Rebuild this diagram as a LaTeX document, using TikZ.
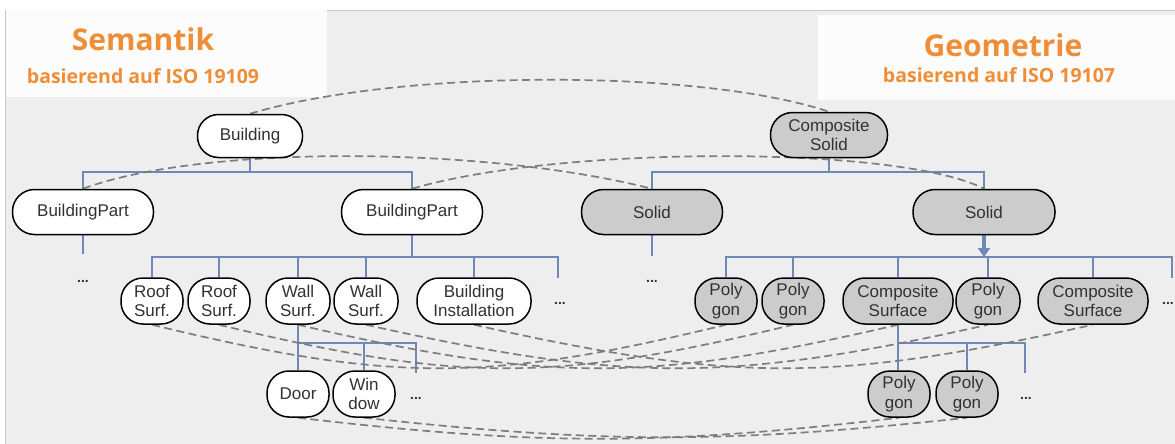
\documentclass[tikz,border=0pt]{standalone}
\usepackage{fontspec}
\setmainfont{Liberation Sans}
\newfontfamily\headfont{Open Sans}
\usetikzlibrary{arrows.meta}
\definecolor{panel}{RGB}{238,238,238}
\definecolor{panelborder}{RGB}{200,200,200}
\definecolor{headfill}{RGB}{252,252,252}
\definecolor{orange1}{RGB}{240,142,55}
\definecolor{txt}{RGB}{50,50,50}
\definecolor{geofill}{RGB}{204,204,204}
\definecolor{treeblue}{RGB}{112,136,184}
\definecolor{linkgray}{RGB}{125,125,125}
\pgfdeclarelayer{bg}
\pgfdeclarelayer{lines}
\pgfsetlayers{bg,lines,main}
\tikzset{
 nd/.style={draw=black, line width=1.5pt, rounded corners=22pt, inner sep=0pt, align=center, text=txt, font=\fontsize{17}{19.5}\selectfont},
 sem/.style={nd, fill=white},
 geo/.style={nd, fill=geofill},
 small/.style={minimum width=62pt, minimum height=46pt},
 tree/.style={draw=treeblue, line width=2pt},
 link/.style={draw=linkgray, line width=1.7pt, dash pattern=on 8pt off 4.5pt},
 dots/.style={font=\bfseries\fontsize{14}{14}\selectfont, text=txt},
 head/.style={text=orange1, font=\headfont\bfseries\fontsize{30}{30}\selectfont, anchor=base},
 subhead/.style={text=orange1, font=\headfont\bfseries\fontsize{19.5}{19.5}\selectfont, anchor=base},
}
\begin{document}
\begin{tikzpicture}[x=1pt,y=-1pt]
\useasboundingbox (0,0) rectangle (1175,444);
\begin{pgfonlayer}{bg}
\fill[white] (0,0) rectangle (1175,444);
\draw[fill=panel, draw=panelborder, line width=0.8pt] (5.5,10) rectangle (1185,455);
\fill[headfill] (5.9,10.4) rectangle (327,97);
\fill[headfill] (818,15) rectangle (1180,100);
\end{pgfonlayer}

% headers
\node[head] (semT) at (143,51) {Semantik};
\node[subhead] (semS) at (143,83) {basierend auf ISO 19109};
\node[head] (geoT) at (1003,57) {Geometrie};
\node[subhead] (geoS) at (999,82) {basierend auf ISO 19107};

% row 1
\node[sem, rounded corners=21pt, minimum width=105pt, minimum height=43pt] (building) at (250,136) {Building};
\node[geo, minimum width=117pt, minimum height=45pt] (csolid) at (829,135) {Composite\\Solid};

% row 2
\node[sem, minimum width=141pt, minimum height=45pt] (bpL) at (83,212) {BuildingPart};
\node[sem, minimum width=141pt, minimum height=45pt] (bpM) at (412,212) {BuildingPart};
\node[geo, minimum width=141pt, minimum height=45pt] (solidL) at (652,212) {Solid};
\node[geo, minimum width=142pt, minimum height=45pt] (solidR) at (984,212) {Solid};

% row 3
\node[sem, small] (roof1) at (152,301) {Roof\\Surf.};
\node[sem, small] (roof2) at (219,301) {Roof\\Surf.};
\node[sem, small, minimum width=64pt] (wall1) at (298,301) {Wall\\Surf.};
\node[sem, small, minimum width=64pt] (wall2) at (366,301) {Wall\\Surf.};
\node[sem, small, minimum width=114pt] (bi) at (474,301) {Building\\Installation};
\node[geo, small] (poly1) at (726,301) {Poly\\gon};
\node[geo, small] (poly2) at (793,301) {Poly\\gon};
\node[geo, small, minimum width=110pt] (cs1) at (898,301) {Composite\\Surface};
\node[geo, small, minimum width=64pt] (poly3) at (988,301) {Poly\\gon};
\node[geo, small, minimum width=110pt] (cs2) at (1093,301) {Composite\\Surface};

% row 4
\node[sem, small] (door) at (298,394) {Door};
\node[sem, small] (window) at (364,394) {Win\\dow};
\node[geo, small] (poly4) at (899,394) {Poly\\gon};
\node[geo, small] (poly5) at (967,394) {Poly\\gon};

% dots
\node[dots] (dBpL) at (83,281) {...};
\node[dots] (dSem3) at (560,303) {...};
\node[dots] (dSolL) at (652,281) {...};
\node[dots] (dGeo3) at (1168,303) {...};
\node[dots] (dSem4) at (416,398) {...};
\node[dots] (dGeo4) at (1026,398) {...};

% bar coordinates
\coordinate (barTop) at (0,172);
\coordinate (barR3) at (0,257);
\coordinate (barR4) at (0,343);
\coordinate (semEnd) at (558,278);
\coordinate (geoEnd) at (1172,278);
\coordinate (semEnd4) at (416,373);
\coordinate (geoEnd4) at (1025,373);

\begin{pgfonlayer}{lines}
% tree lines
\draw[tree] (building.south) -- (building.south |- barTop) -| (bpL.north);
\draw[tree] (building.south |- barTop) -| (bpM.north);
\draw[tree] (csolid.south) -- (csolid.south |- barTop) -| (solidL.north);
\draw[tree] (csolid.south |- barTop) -| (solidR.north);
\draw[tree] (bpL.south) -- ++(0,19);
\draw[tree] (solidL.south) -- ++(0,21);
\draw[tree] (bpM.south) -- (bpM.south |- barR3);
\draw[tree] (roof1.north) |- (semEnd |- barR3) -- (semEnd);
\draw[tree] (roof2.north) -- (roof2.north |- barR3);
\draw[tree] (wall1.north) -- (wall1.north |- barR3);
\draw[tree] (wall2.north) -- (wall2.north |- barR3);
\draw[tree] (bi.north) -- (bi.north |- barR3);
\draw[tree, line width=3.5pt, -{Triangle[width=12pt,length=9pt]}] (solidR.south) -- (solidR.south |- barR3);
\draw[tree] (poly1.north) |- (geoEnd |- barR3) -- (geoEnd);
\draw[tree] (poly2.north) -- (poly2.north |- barR3);
\draw[tree] (cs1.north) -- (cs1.north |- barR3);
\draw[tree] (poly3.north) -- (poly3.north |- barR3);
\draw[tree] (cs2.north) -- (cs2.north |- barR3);
\draw[tree] (wall1.south) -- (door.north);
\draw[tree] (wall1.south |- barR4) -| (semEnd4);
\draw[tree] (window.north) -- (window.north |- barR4);
\draw[tree] (cs1.south) -- (cs1.south |- door.north);
\draw[tree] (cs1.south |- barR4) -| (geoEnd4);
\draw[tree] (poly5.north) -- (poly5.north |- barR4);

% semantic-geometric links
\draw[link] (building.north) .. controls +(150,-45) and +(-129,-43) .. (csolid.north);
\draw[link] (bpL.north) .. controls +(117,-43.5) and +(-172,-43.5) .. (solidL.north);
\draw[link] (bpM.north) .. controls +(148,-43.5) and +(-84,-43.5) .. (solidR.north);
\draw[link] (roof1.south) .. controls +(240,58) and +(-240,58) .. (poly1.south);
\draw[link] (roof2.south) .. controls +(240,58) and +(-240,58) .. (poly2.south);
\draw[link] (wall1.south) .. controls +(250,58) and +(-250,58) .. (cs1.south);
\draw[link] (wall2.south) .. controls +(260,58) and +(-260,58) .. (poly3.south);
\draw[link] (bi.south) .. controls +(260,58) and +(-260,58) .. (cs2.south);
\draw[link] (door.south) .. controls +(240,28) and +(-240,28) .. (poly4.south);
\draw[link] (window.south) .. controls +(240,26) and +(-240,26) .. (poly5.south);
\end{pgfonlayer}
\end{tikzpicture}
\end{document}
